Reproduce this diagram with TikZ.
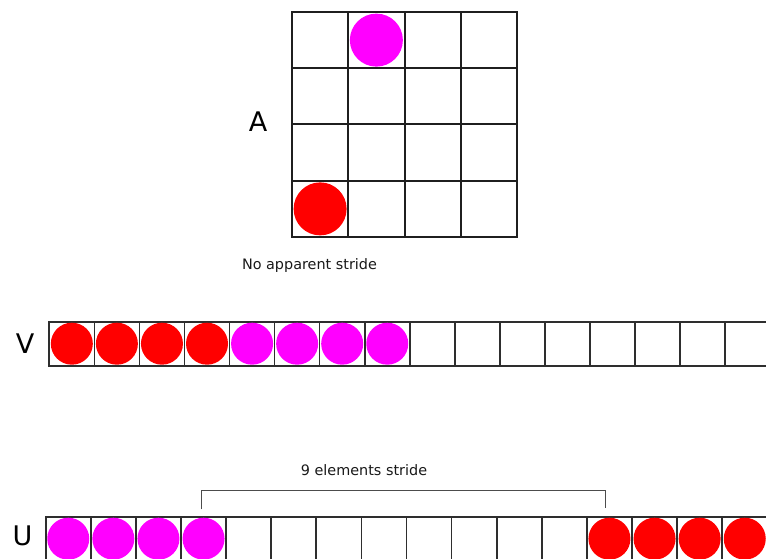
\documentclass[tikz,border=0pt]{standalone}
\usepackage{fontspec}
\setmainfont{DejaVu Sans}
\definecolor{mag}{HTML}{FF00FF}
\definecolor{rd}{HTML}{FF0000}
\begin{document}
\begin{tikzpicture}[x=1pt,y=-1pt,
  gridcell/.style={rectangle, draw=black!88, line width=2pt, minimum width=56.25pt, minimum height=56.25pt, inner sep=0pt, outer sep=0pt},
  rowcell/.style={rectangle, draw=black!82, line width=1.6pt, minimum width=45.08pt, minimum height=44pt, inner sep=0pt, outer sep=0pt},
  bigdot/.style={circle, inner sep=0pt, minimum size=53pt, fill=#1},
  smalldot/.style={circle, inner sep=0pt, minimum size=42pt, fill=#1},
  biglabel/.style={font=\fontsize{27}{27}\selectfont, inner sep=0pt},
  caption/.style={font=\fontsize{14.4}{14.4}\selectfont, text=black!90, inner sep=0pt, anchor=base},
  bracket/.style={draw=black!70, line width=1pt}
]
\useasboundingbox (0,0) rectangle (766,559);
% grid A
\foreach \i in {0,...,3}{
  \foreach \j in {0,...,3}{
    \node[gridcell] (a\i\j) at ({292+56.25*(\i+0.5)},{12+56.25*(\j+0.5)}) {};
  }
}
\node[bigdot=mag] (pa) at (a10) {};
\node[bigdot=rd] (ra) at (a03) {};
\node[biglabel] (la) at (258,121.7) {A};
\node[caption] (ca) at (309.5,269.3) {No apparent stride};
% row V
\foreach \i in {0,...,15}{
  \node[rowcell] (v\i) at ({49.3+45.06*(\i+0.5)},343.7) {};
}
\foreach \i in {0,...,3}{ \node[smalldot=rd] (vr\i) at (v\i) {}; }
\foreach \i in {4,...,7}{ \node[smalldot=mag] (vm\i) at (v\i) {}; }
\node[biglabel] (lv) at (25.2,343.3) {V};
% row U
\foreach \i in {0,...,15}{
  \node[rowcell] (u\i) at ({45.7+45.1*(\i+0.5)},538.7) {};
}
\foreach \i in {0,...,3}{ \node[smalldot=mag] (um\i) at (u\i) {}; }
\foreach \i in {12,...,15}{ \node[smalldot=rd] (ur\i) at (u\i) {}; }
\node[biglabel] (lu) at (22.5,535.5) {U};
% bracket
\node[caption] (cu) at (364,475) {9 elements stride};
\coordinate (bl) at (201.7,509.3);
\coordinate (br) at (605.7,507.5);
\coordinate (btop) at (400,490.7);
\draw[bracket] (bl) -- (bl |- btop) -- (br |- btop) -- (br);
\end{tikzpicture}
\end{document}
